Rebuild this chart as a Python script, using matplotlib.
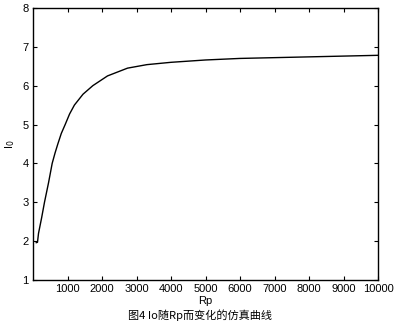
import matplotlib
matplotlib.use("Agg")
import matplotlib.pyplot as plt
import numpy as np

rp = [95, 130, 160, 250, 333, 450, 556, 640, 720, 820, 933, 1060, 1200, 1450, 1735,
      2160, 2740, 3300, 4000, 5000, 6000, 7000, 8000, 9000, 10000]
io = [1.96, 1.97, 2.2, 2.6, 3.0, 3.5, 4.0, 4.27, 4.5, 4.77, 5.0, 5.27, 5.5, 5.78, 6.0,
      6.25, 6.45, 6.54, 6.6, 6.66, 6.7, 6.72, 6.74, 6.76, 6.78]
xticks = [1000, 2000, 3000, 4000, 5000, 6000, 7000, 8000, 9000, 10000]
yticks = [1, 2, 3, 4, 5, 6, 7, 8]

plt.rcParams['font.family'] = ['Liberation Sans', 'DejaVu Sans']

fig = plt.figure(figsize=(4.0, 3.29), dpi=100)
ax = fig.add_axes([0.0825, 0.149, 0.8625, 0.827])
ax.plot(rp, io, color='black', linewidth=1.0)
ax.set_xlim(0, 10000)
ax.set_ylim(1, 8)
ax.set_xticks(xticks)
ax.set_yticks(yticks)
ax.tick_params(direction='in', top=True, right=True, labelsize=8, length=3, pad=3)
for s in ax.spines.values():
    s.set_linewidth(1.0)
ax.set_xlabel("Rp", fontsize=8, labelpad=1)
ax.set_ylabel("I$_0$", fontsize=8, labelpad=4)

fig.text(0.5, 0.025, "图4 Io随Rp而变化的仿真曲线", ha='center', va='bottom', fontsize=8,
         family=['Noto Sans CJK SC', 'DejaVu Sans'])

fig.savefig("out.png", dpi=100)
